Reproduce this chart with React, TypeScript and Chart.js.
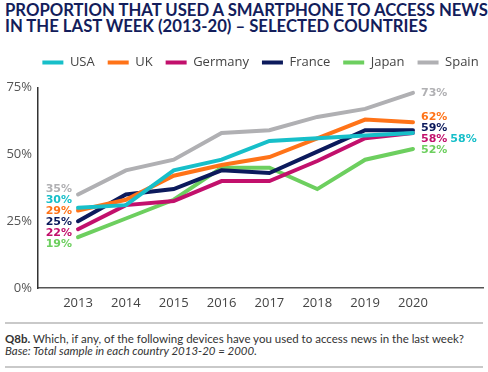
import React, { useEffect, useRef } from 'react';
import { Chart, registerables } from 'chart.js';

Chart.register(...registerables);

const years = [2013, 2014, 2015, 2016, 2017, 2018, 2019, 2020];
const countries = ['USA', 'UK', 'Germany', 'France', 'Japan', 'Spain'];
const usa = [30, 31, 44, 48, 55, 56, 57, 58];
const uk = [29, 33, 42, 46, 49, 56, 63, 62];
const germany = [22, 31, 32.5, 40, 40, 47.5, 56, 58];
const france = [25, 35, 37, 44, 43, 51, 59, 59];
const japan = [19, 26, 33, 45, 45, 37, 48, 52];
const spain = [35, 44, 48, 58, 59, 64, 67, 73];
const yTicks = [0, 25, 50, 75];

const seriesValues = [usa, uk, germany, france, japan, spain];
const colors = ['#17bfc9', '#ff7318', '#c2106c', '#0c1a5c', '#6dcf5f', '#b0b0b3'];

const legendGap = {
  id: 'legendGap',
  beforeInit(chart: any) {
    const legend = chart.legend;
    if (!legend) return;
    const orig = legend.fit;
    legend.fit = function () {
      const mw = this.maxWidth;
      this.maxWidth = mw + 120;
      orig.call(this);
      this.maxWidth = mw;
      this.width = Math.min(this.width, mw);
      this.height += 8.5;
    };
  },
  afterLayout(chart: any) {
    const l = chart.legend;
    if (!l) return;
    l.left -= 40;
    l.right += 40;
    l.width = l.right - l.left;
  },
};

const LABEL_GAP = 11;

function spread(items: any[]) {
  const groups = items.map((it) => ({ members: [it] }));
  const pos = (g: any) => {
    const mean = g.members.reduce((s: number, m: any) => s + m.py, 0) / g.members.length;
    return g.members.map((_: any, k: number) => mean + (k - (g.members.length - 1) / 2) * LABEL_GAP);
  };
  let changed = true;
  while (changed) {
    changed = false;
    for (let i = 0; i < groups.length - 1; i++) {
      const a = pos(groups[i]);
      const b = pos(groups[i + 1]);
      if (a[a.length - 1] + LABEL_GAP > b[0] + 0.01) {
        groups[i].members = groups[i].members.concat(groups[i + 1].members);
        groups.splice(i + 1, 1);
        changed = true;
        break;
      }
    }
  }
  groups.forEach((g) => {
    const p = pos(g);
    g.members.forEach((m: any, k: number) => (m.ly = p[k]));
  });
}

const endLabels = {
  id: 'endLabels',
  afterDatasetsDraw(chart: any) {
    const { ctx } = chart;
    const xs = chart.scales.x;
    const ys = chart.scales.y;
    const ds = chart.data.datasets;
    const last = years.length - 1;
    ctx.save();
    ctx.font = 'bold 11px "DejaVu Sans"';
    ctx.textBaseline = 'middle';

    // left side (first year)
    const left = ds
      .map((d: any, i: number) => ({ i, v: d.data[0].y, py: ys.getPixelForValue(d.data[0].y) }))
      .sort((a: any, b: any) => a.py - b.py);
    spread(left);
    ctx.textAlign = 'right';
    const lx = xs.getPixelForValue(years[0]) - 6;
    left.forEach((m: any) => {
      ctx.fillStyle = ds[m.i].borderColor;
      ctx.fillText(`${Math.round(m.v)}%`, lx, m.ly);
    });

    // right side (last year), equal values share a row
    const sorted = ds
      .map((d: any, i: number) => ({ i, v: d.data[last].y }))
      .sort((a: any, b: any) => b.v - a.v || b.i - a.i);
    const rows: any[] = [];
    sorted.forEach((s: any) => {
      const prev = rows[rows.length - 1];
      if (prev && prev.v === s.v) prev.list.push(s.i);
      else rows.push({ v: s.v, list: [s.i], py: ys.getPixelForValue(s.v) });
    });
    spread(rows);
    ctx.textAlign = 'left';
    const rx0 = xs.getPixelForValue(years[last]) + 8;
    rows.forEach((r: any) => {
      let rx = rx0;
      r.list.forEach((i: number) => {
        const t = `${Math.round(r.v)}%`;
        ctx.fillStyle = ds[i].borderColor;
        ctx.fillText(t, rx, r.ly);
        rx += ctx.measureText(t).width + 3;
      });
    });
    ctx.restore();
  },
};

export default function App() {
  const ref = useRef<HTMLCanvasElement>(null);

  useEffect(() => {
    const datasets = countries.map((name, i) => ({
      label: name,
      data: years.map((yr, k) => ({ x: yr, y: seriesValues[i][k] })),
      borderColor: colors[i],
      backgroundColor: colors[i],
      borderWidth: 4,
      borderCapStyle: 'round' as const,
      pointRadius: 0,
      pointHoverRadius: 0,
      tension: 0,
      fill: false,
    }));

    const chart = new Chart(ref.current as HTMLCanvasElement, {
      type: 'line',
      data: { datasets },
      plugins: [legendGap, endLabels],
      options: {
        animation: false,
        responsive: false,
        devicePixelRatio: 1,
        layout: { padding: { top: 2, right: 5, left: 0, bottom: 0 } },
        plugins: {
          tooltip: { enabled: false },
          legend: {
            display: true,
            position: 'top',
            fullSize: false,
            labels: {
              usePointStyle: true,
              pointStyle: 'line',
              pointStyleWidth: 21,
              padding: 13,
              color: '#444',
              font: { family: '"Open Sans"', size: 13 },
            },
          },
        },
        scales: {
          x: {
            type: 'linear',
            min: years[0] - 0.836,
            max: years[years.length - 1] + 1.463,
            afterBuildTicks: (scale: any) => {
              scale.ticks = years.map((v) => ({ value: v }));
            },
            afterFit: (scale: any) => {
              scale.height = 30;
            },
            grid: { display: false, drawTicks: false },
            border: { display: true, color: '#555', width: 1.5 },
            ticks: {
              padding: 7,
              color: '#444',
              font: { family: '"Open Sans"', size: 13 },
              callback: (v: any) => String(v),
            },
          },
          y: {
            type: 'linear',
            min: yTicks[0],
            max: yTicks[yTicks.length - 1],
            afterBuildTicks: (scale: any) => {
              scale.ticks = yTicks.map((v) => ({ value: v }));
            },
            afterFit: (scale: any) => {
              scale.width = 38;
            },
            grid: { display: false, drawTicks: false },
            border: { display: true, color: '#333', width: 1.5 },
            ticks: {
              padding: 6,
              color: '#555',
              font: { family: '"Open Sans"', size: 13 },
              callback: (v: any) => `${v}%`,
            },
          },
        },
      },
    });
    return () => chart.destroy();
  }, []);

  return (
    <div
      style={{
        position: 'absolute',
        left: 0,
        top: 0,
        width: 488,
        height: 372,
        background: '#fff',
        overflow: 'hidden',
      }}
    >
      <div
        style={{
          position: 'absolute',
          left: 5,
          top: 2.2,
          fontFamily: 'Lato',
          fontWeight: 700,
          fontSize: 16.7,
          lineHeight: '16.3px',
          color: '#131d5b',
          whiteSpace: 'nowrap',
        }}
      >
        PROPORTION THAT USED A SMARTPHONE TO ACCESS NEWS
        <br />
        IN THE LAST WEEK (2013-20) – SELECTED COUNTRIES
      </div>
      <canvas
        ref={ref}
        width={488}
        height={277}
        style={{ position: 'absolute', left: 0, top: 41, width: 488, height: 277 }}
      />
      <div style={{ position: 'absolute', left: 5, top: 322, width: 478, height: 1.5, background: '#c9c9c9' }} />
      <div
        style={{
          position: 'absolute',
          left: 5,
          top: 332.6,
          fontFamily: 'Lato',
          fontSize: 11.5,
          lineHeight: '12px',
          color: '#333',
          whiteSpace: 'nowrap',
        }}
      >
        <b>Q8b.</b> Which, if any, of the following devices have you used to access news in the last week?
        <br />
        <i>Base: Total sample in each country 2013-20 = 2000.</i>
      </div>
      <div style={{ position: 'absolute', left: 5, top: 366, width: 478, height: 1.5, background: '#c9c9c9' }} />
    </div>
  );
}
